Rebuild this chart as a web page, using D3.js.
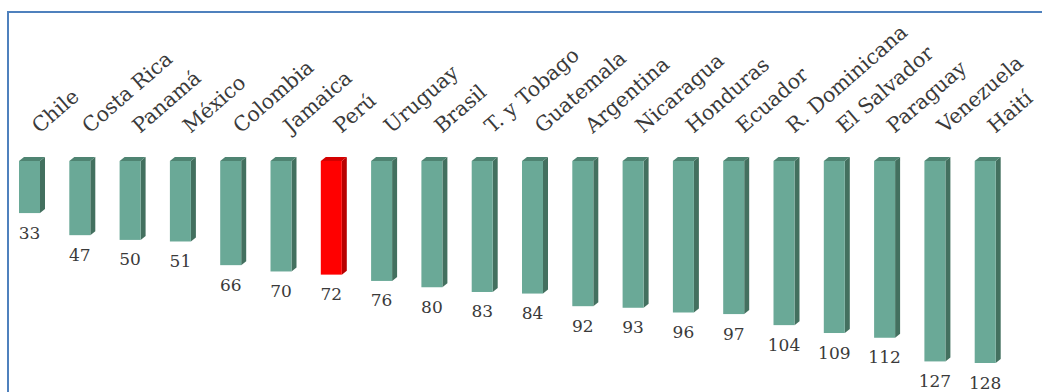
<!DOCTYPE html>
<html>
<head>
<meta charset="utf-8">
<script src="https://cdn.jsdelivr.net/npm/d3@7"></script>
<style>
  html, body { margin: 0; padding: 0; background: #fff; }
  svg { display: block; }
  text { font-family: Georgia, "DejaVu Serif", serif; fill: #3a3a3a; }
</style>
</head>
<body>
<svg id="chart" width="1042" height="392"></svg>
<script>
const countries = ["Chile", "Costa Rica", "Panamá", "México", "Colombia", "Jamaica", "Perú",
  "Uruguay", "Brasil", "T. y Tobago", "Guatemala", "Argentina", "Nicaragua", "Honduras",
  "Ecuador", "R. Dominicana", "El Salvador", "Paraguay", "Venezuela", "Haití"];
const values = [33, 47, 50, 51, 66, 70, 72, 76, 80, 83, 84, 92, 93, 96, 97, 104, 109, 112, 127, 128];
const highlight = ["Perú"];

const svg = d3.select("#chart");

// frame
svg.append("path")
  .attr("d", "M8,392 L8,12 L1042,12")
  .attr("fill", "none")
  .attr("stroke", "#4f81bd")
  .attr("stroke-width", 2);

const x = d3.scaleBand()
  .domain(countries)
  .range([19, 995.7])
  .paddingInner(0.5825)
  .paddingOuter(0)
  .align(0);

// bars hang downward from the top baseline
const y = d3.scaleLinear().domain([0, 128]).range([161, 363]);

const dx = 5, dy = 4;
const w = x.bandwidth();
const data = countries.map((c, i) => ({ c, v: values[i] }));

const colors = d => highlight.includes(d.c)
  ? { front: "#ff0000", side: "#b80000", top: "#d40000" }
  : { front: "#6aa997", side: "#43705f", top: "#4f8472" };

const bars = svg.append("g").selectAll("g").data(data).join("g");

bars.append("path")
  .attr("d", d => {
    const x0 = x(d.c) + w, t = y(0), b = y(d.v);
    return `M${x0},${t} L${x0 + dx},${t - dy} L${x0 + dx},${b - dy} L${x0},${b} Z`;
  })
  .attr("fill", d => colors(d).side);

bars.append("path")
  .attr("d", d => {
    const x0 = x(d.c), t = y(0);
    return `M${x0},${t} L${x0 + dx},${t - dy} L${x0 + w + dx},${t - dy} L${x0 + w},${t} Z`;
  })
  .attr("fill", d => colors(d).top);

bars.append("rect")
  .attr("x", d => x(d.c))
  .attr("y", y(0))
  .attr("width", w)
  .attr("height", d => y(d.v) - y(0))
  .attr("fill", d => colors(d).front);

// value labels under each bar
svg.append("g").selectAll("text").data(data).join("text")
  .attr("x", d => x(d.c) + w / 2)
  .attr("y", d => y(d.v) + 21)
  .attr("text-anchor", "middle")
  .attr("dominant-baseline", "middle")
  .style("font-size", "17px")
  .style("font-variant-numeric", "oldstyle-nums")
  .text(d => d.v);

// rotated category labels
svg.append("g").selectAll("text").data(data).join("text")
  .attr("transform", d => `translate(${x(d.c) + w / 2 + 10},134) rotate(-41)`)
  .attr("text-anchor", "start")
  .style("font-size", "20.5px")
  .text(d => d.c);
</script>
</body>
</html>
